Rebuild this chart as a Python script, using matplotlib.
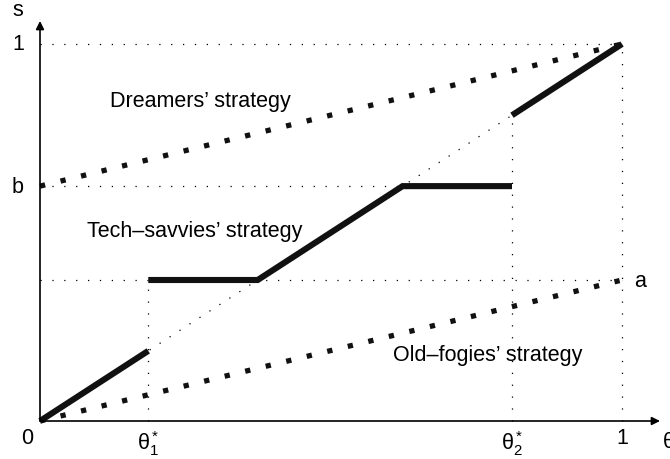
import matplotlib
matplotlib.use("Agg")
import matplotlib.pyplot as plt
import numpy as np

plt.rcParams['font.family'] = ['Liberation Sans', 'DejaVu Sans']
plt.rcParams['mathtext.fontset'] = 'custom'
plt.rcParams['mathtext.rm'] = 'Liberation Sans'
plt.rcParams['mathtext.it'] = 'Liberation Sans'
plt.rcParams['mathtext.bf'] = 'Liberation Sans'

# key values
a = 0.374
b = 0.623
theta1 = 0.186
theta2 = 0.811

# strategies
dreamers_x = [0.0, 1.0]
dreamers_y = [b, 1.0]
oldfogies_x = [0.0, 1.0]
oldfogies_y = [0.0, a]
tech_seg1_x = [0.0, theta1]
tech_seg1_y = [0.0, theta1]
tech_seg2_x = [theta1, a, b, theta2]
tech_seg2_y = [a, a, b, b]
tech_seg3_x = [theta2, 1.0]
tech_seg3_y = [theta2, 1.0]

fig = plt.figure(figsize=(6.7, 4.6), dpi=100)
ax = fig.add_axes([0, 0, 1, 1])
ax.set_xlim(-40/582, 630/582)
ax.set_ylim(-38/377, 422/377)
ax.axis('off')

def px(x):
    return (x - 40) / 582

def py(y):
    return (422 - y) / 377

thin = dict(color='black', lw=0.9, linestyle=(0, (1, 8.5)), dash_capstyle='butt')
# diagonal
ax.plot([0, 1], [0, 1], **thin)
# horizontal guides
ax.plot([0, 1], [1, 1], **thin)
ax.plot([0, theta2], [b, b], **thin)
ax.plot([0, 1], [a, a], **thin)
# vertical guides
ax.plot([theta1, theta1], [0, a], **thin)
ax.plot([theta2, theta2], [0, theta2], **thin)
ax.plot([1, 1], [0, 1], **thin)

thick_dot = dict(color='#111111', lw=3.8, linestyle=(0, (1, 3.0)), dash_capstyle='butt')
ax.plot(dreamers_x, dreamers_y, **thick_dot)
ax.plot(oldfogies_x, oldfogies_y, **thick_dot)

solid = dict(color='#111111', lw=4.4, solid_capstyle='butt', solid_joinstyle='miter')
ax.plot(tech_seg1_x, tech_seg1_y, **solid)
ax.plot(tech_seg2_x, tech_seg2_y, **solid)
ax.plot(tech_seg3_x, tech_seg3_y, **solid)

# axes with arrows
ax.annotate('', xy=(0, py(22)), xytext=(0, 0),
            arrowprops=dict(arrowstyle='-|>', color='black', lw=1.2,
                            mutation_scale=12, shrinkA=0, shrinkB=0))
ax.annotate('', xy=(px(660), 0), xytext=(0, 0),
            arrowprops=dict(arrowstyle='-|>', color='black', lw=1.2,
                            mutation_scale=12, shrinkA=0, shrinkB=0))

fs = 15.5
ax.text(px(18), py(10), 's', fontsize=fs, ha='center', va='center')
ax.text(px(18), py(44), '1', fontsize=fs, ha='center', va='center')
ax.text(px(18), b, 'b', fontsize=fs, ha='center', va='center')
ax.text(px(27), py(439), '0', fontsize=fs, ha='center', va='center')
ax.text(theta1, py(444), r'$\mathrm{\theta}_1^*$', fontsize=fs, ha='center', va='center')
ax.text(theta2, py(444), r'$\mathrm{\theta}_2^*$', fontsize=fs, ha='center', va='center')
ax.text(1.0, py(439), '1', fontsize=fs, ha='center', va='center')
ax.text(px(662), py(443), r'$\mathrm{\theta}$', fontsize=fs, ha='left', va='center')
ax.text(px(634), a, 'a', fontsize=fs, ha='left', va='center')

ax.text(px(110), py(102), "Dreamers\u2019 strategy", fontsize=fs, ha='left', va='center')
ax.text(px(87), py(232), "Tech\u2013savvies\u2019 strategy", fontsize=fs, ha='left', va='center')
ax.text(px(393), py(356), "Old\u2013fogies\u2019 strategy", fontsize=fs, ha='left', va='center')

fig.savefig('out.png', dpi=100)
